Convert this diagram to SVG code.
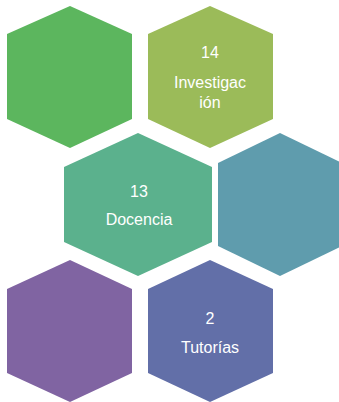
<svg xmlns="http://www.w3.org/2000/svg" width="339" height="402" viewBox="0 0 339 402">
<style>
.t{font-family:"Liberation Sans",Arial,sans-serif;font-size:16px;fill:#ffffff;text-anchor:middle}
</style>
<rect width="339" height="402" fill="#ffffff"/>
<g id="hex1"><polygon points="70,6 132,34 132,119 70,148 7,119 7,34" fill="#5cb65e"/></g>
<g id="hex2"><polygon points="210,6 273,34 273,119 210,148 148,119 148,34" fill="#9bbb59"/>
<text class="t" x="210" y="58">14</text><text class="t" x="210" y="88">Investigac</text><text class="t" x="210" y="108">ión</text></g>
<g id="hex3"><polygon points="138,133 212,167 212,242 138,276 64,242 64,167" fill="#5bb18d"/>
<text class="t" x="139" y="197">13</text><text class="t" x="139" y="225">Docencia</text></g>
<g id="hex4"><polygon points="280,133 342,163 342,246 280,276 218,246 218,163" fill="#5f9cad"/></g>
<g id="hex5"><polygon points="70,260 132,289 132,373 70,402 7,373 7,289" fill="#8064a2"/></g>
<g id="hex6"><polygon points="210,260 273,289 273,373 210,402 148,373 148,289" fill="#626fa8"/>
<text class="t" x="210" y="324">2</text><text class="t" x="210" y="353">Tutorías</text></g>
<g id="connectors"></g>
</svg>
